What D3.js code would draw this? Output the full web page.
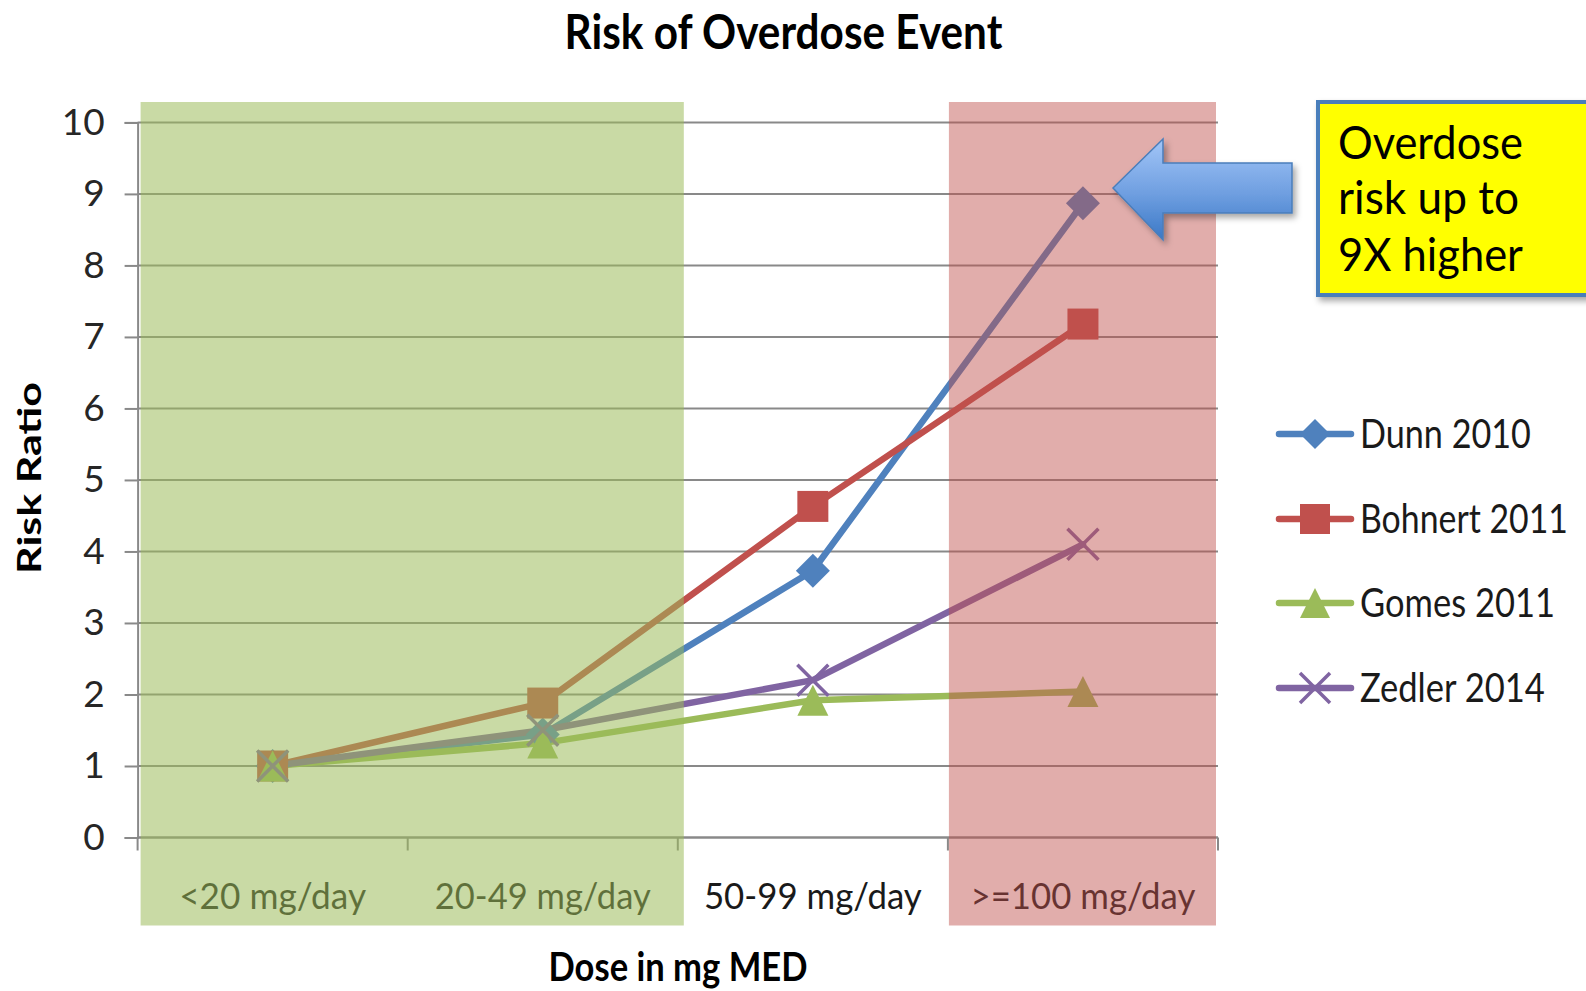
<!DOCTYPE html>
<html>
<head>
<meta charset="utf-8">
<script src="https://cdn.jsdelivr.net/npm/d3@7"></script>
<style>
  html, body { margin: 0; padding: 0; background: #ffffff; }
  svg { display: block; }
  text { font-family: Lato, "Open Sans", sans-serif; }
</style>
</head>
<body>
<svg id="chart" width="1586" height="991"></svg>
<script>
// Dose categories (x axis)
const categories = ["<20 mg/day", "20-49 mg/day", "50-99 mg/day", ">=100 mg/day"];

// Risk ratios per study
const seriesNames = ["Dunn 2010", "Bohnert 2011", "Gomes 2011", "Zedler 2014"];
const dunn2010    = [1, 1.44, 3.73, 8.87];
const bohnert2011 = [1, 1.88, 4.63, 7.18];
const gomes2011   = [1, 1.32, 1.92, 2.04];
const zedler2014  = [1, 1.50, 2.20, 4.10];

// Axis ticks
const yTicks = [0, 1, 2, 3, 4, 5, 6, 7, 8, 9, 10];

// Callout text
const calloutLines = ["Overdose", "risk up to", "9X higher"];

const series = [
  { name: seriesNames[0], values: dunn2010,    color: "#4F81BD", marker: "diamond" },
  { name: seriesNames[1], values: bohnert2011, color: "#C0504D", marker: "square" },
  { name: seriesNames[2], values: gomes2011,   color: "#9BBB59", marker: "triangle" },
  { name: seriesNames[3], values: zedler2014,  color: "#8064A2", marker: "x" }
];

const svg = d3.select("#chart");

const plot = { left: 137.6, right: 1218, top: 122.4, bottom: 837.5 };

const x = d3.scaleBand().domain(categories).range([plot.left, plot.right]).paddingInner(0).paddingOuter(0);
const y = d3.scaleLinear().domain([0, 10]).range([plot.bottom, plot.top]);
const cx = c => x(c) + x.bandwidth() / 2;

// Squeeze a text horizontally (Calibri-like narrow look) to a given width
function fitText(parent, px, py, str, width, attrs) {
  const g = parent.append("g").attr("transform", `translate(${px},${py})`);
  const t = g.append("text").attr("x", 0).attr("y", 0).text(str);
  Object.entries(attrs).forEach(([k, v]) => t.attr(k, v));
  const natural = t.node().getComputedTextLength();
  g.attr("transform", `translate(${px},${py}) scale(${width / natural},1)`);
  return t;
}

const defs = svg.append("defs");
const grad = defs.append("linearGradient").attr("id", "arrowFill")
  .attr("x1", 0).attr("y1", 0).attr("x2", 0).attr("y2", 1);
grad.append("stop").attr("offset", "0%").attr("stop-color", "#A3C6F8");
grad.append("stop").attr("offset", "55%").attr("stop-color", "#6E9EE0");
grad.append("stop").attr("offset", "100%").attr("stop-color", "#3A78C6");

const shadow = defs.append("filter").attr("id", "shadow")
  .attr("x", "-10%").attr("y", "-10%").attr("width", "130%").attr("height", "130%");
shadow.append("feDropShadow").attr("dx", 3).attr("dy", 4).attr("stdDeviation", 3)
  .attr("flood-color", "#000").attr("flood-opacity", 0.35);

// Horizontal gridlines
svg.append("g").selectAll("line").data(yTicks).join("line")
  .attr("x1", plot.left).attr("x2", plot.right)
  .attr("y1", d => y(d)).attr("y2", d => y(d))
  .attr("stroke", "#898989").attr("stroke-width", 2);

// Y axis
const yAxis = svg.append("g").attr("transform", `translate(${plot.left},0)`)
  .call(d3.axisLeft(y).tickValues(yTicks).tickSize(13).tickPadding(20).tickFormat(d3.format("d")));
yAxis.select(".domain").attr("stroke", "#898989").attr("stroke-width", 2);
yAxis.selectAll(".tick line").attr("stroke", "#898989").attr("stroke-width", 2);
yAxis.selectAll(".tick text").attr("font-size", 37).attr("fill", "#262626")
  .style("font-family", "Lato, 'Open Sans', sans-serif");

// X axis with boundary ticks between categories
const boundaries = categories.map(c => x(c)).concat([plot.right]);
svg.append("g").selectAll("line").data(boundaries).join("line")
  .attr("x1", d => d).attr("x2", d => d)
  .attr("y1", plot.bottom).attr("y2", plot.bottom + 13)
  .attr("stroke", "#898989").attr("stroke-width", 2);
svg.append("line").attr("x1", plot.left).attr("x2", plot.right)
  .attr("y1", plot.bottom).attr("y2", plot.bottom)
  .attr("stroke", "#898989").attr("stroke-width", 2);

const xLabelWidths = [187, 216, 218, 225];
const xLabels = svg.append("g");
categories.forEach((c, i) => {
  fitText(xLabels, cx(c), 909, c, xLabelWidths[i],
    { "text-anchor": "middle", "font-size": 37, "fill": "#1a1a1a" });
});

// Marker shapes
function markerPath(type, s) {
  const h = s / 2;
  if (type === "diamond") return `M0,${-h}L${h},0L0,${h}L${-h},0Z`;
  if (type === "square") return `M${-h},${-h}H${h}V${h}H${-h}Z`;
  if (type === "triangle") return `M0,${-h}L${h},${h}L${-h},${h}Z`;
  return `M${-h},${-h}L${h},${h}M${h},${-h}L${-h},${h}`;
}
function drawMarker(g, type, color, size) {
  const p = g.append("path").attr("d", markerPath(type, size));
  if (type === "x") p.attr("fill", "none").attr("stroke", color).attr("stroke-width", 3.5);
  else p.attr("fill", color);
}

// Series lines and markers
const line = d3.line().x((d, i) => cx(categories[i])).y(d => y(d));
series.forEach(s => {
  svg.append("path").datum(s.values).attr("d", line)
    .attr("fill", "none").attr("stroke", s.color).attr("stroke-width", 6.5)
    .attr("stroke-linejoin", "round").attr("stroke-linecap", "round");
});
series.forEach(s => {
  s.values.forEach((v, i) => {
    const g = svg.append("g").attr("transform", `translate(${cx(categories[i])},${y(v)})`);
    drawMarker(g, s.marker, s.color, s.marker === "diamond" ? 34 : 31);
  });
});

// Dose zones shaded over the plot
const bandTop = 102, bandBottom = 925.5;
svg.append("rect")
  .attr("x", x(categories[0]) + 3).attr("y", bandTop)
  .attr("width", x(categories[2]) + 6 - (x(categories[0]) + 3)).attr("height", bandBottom - bandTop)
  .attr("fill", "#9BBB59").attr("fill-opacity", 0.54);
svg.append("rect")
  .attr("x", x(categories[3]) + 1).attr("y", bandTop)
  .attr("width", plot.right - 2 - (x(categories[3]) + 1)).attr("height", bandBottom - bandTop)
  .attr("fill", "#C0504D").attr("fill-opacity", 0.47);

// Titles
fitText(svg, 783.5, 49, "Risk of Overdose Event", 438,
  { "text-anchor": "middle", "font-size": 48, "font-weight": "bold", "fill": "#000" });
const yTitle = svg.append("g").attr("transform", "translate(41,478) rotate(-90)");
fitText(yTitle, 0, 0, "Risk Ratio", 192,
  { "text-anchor": "middle", "font-size": 33, "font-weight": "bold", "fill": "#000" });
fitText(svg, 678, 981, "Dose in mg MED", 259,
  { "text-anchor": "middle", "font-size": 40, "font-weight": "bold", "fill": "#000" });

// Legend
const legendY = [434, 519, 603, 688];
const legendWidths = [171, 208, 195, 185];
series.forEach((s, i) => {
  const g = svg.append("g").attr("transform", `translate(0,${legendY[i]})`);
  g.append("line").attr("x1", 1279).attr("x2", 1351).attr("y1", 0).attr("y2", 0)
    .attr("stroke", s.color).attr("stroke-width", 6.5).attr("stroke-linecap", "round");
  const m = g.append("g").attr("transform", "translate(1315,0)");
  drawMarker(m, s.marker, s.color, 30);
  fitText(g, 1360, 14, s.name, legendWidths[i], { "font-size": 40, "fill": "#1a1a1a" });
});

// Callout arrow pointing at the top value
const arrow = [[1113, 188], [1163, 139], [1163, 163], [1292, 163], [1292, 213], [1163, 213], [1163, 240]];
svg.append("path").attr("d", d3.line()(arrow) + "Z")
  .attr("fill", "url(#arrowFill)").attr("stroke", "#4A7EBB").attr("stroke-width", 1.5)
  .attr("filter", "url(#shadow)");

// Callout box
svg.append("rect").attr("x", 1318).attr("y", 102).attr("width", 290).attr("height", 193)
  .attr("fill", "#FFFF00").attr("stroke", "#4A7EBB").attr("stroke-width", 4)
  .attr("filter", "url(#shadow)");
const calloutWidths = [185, 181, 185];
const calloutBase = [159, 214, 271];
calloutLines.forEach((str, i) => {
  fitText(svg, 1338, calloutBase[i], str, calloutWidths[i], { "font-size": 46, "fill": "#000" });
});
</script>
</body>
</html>
